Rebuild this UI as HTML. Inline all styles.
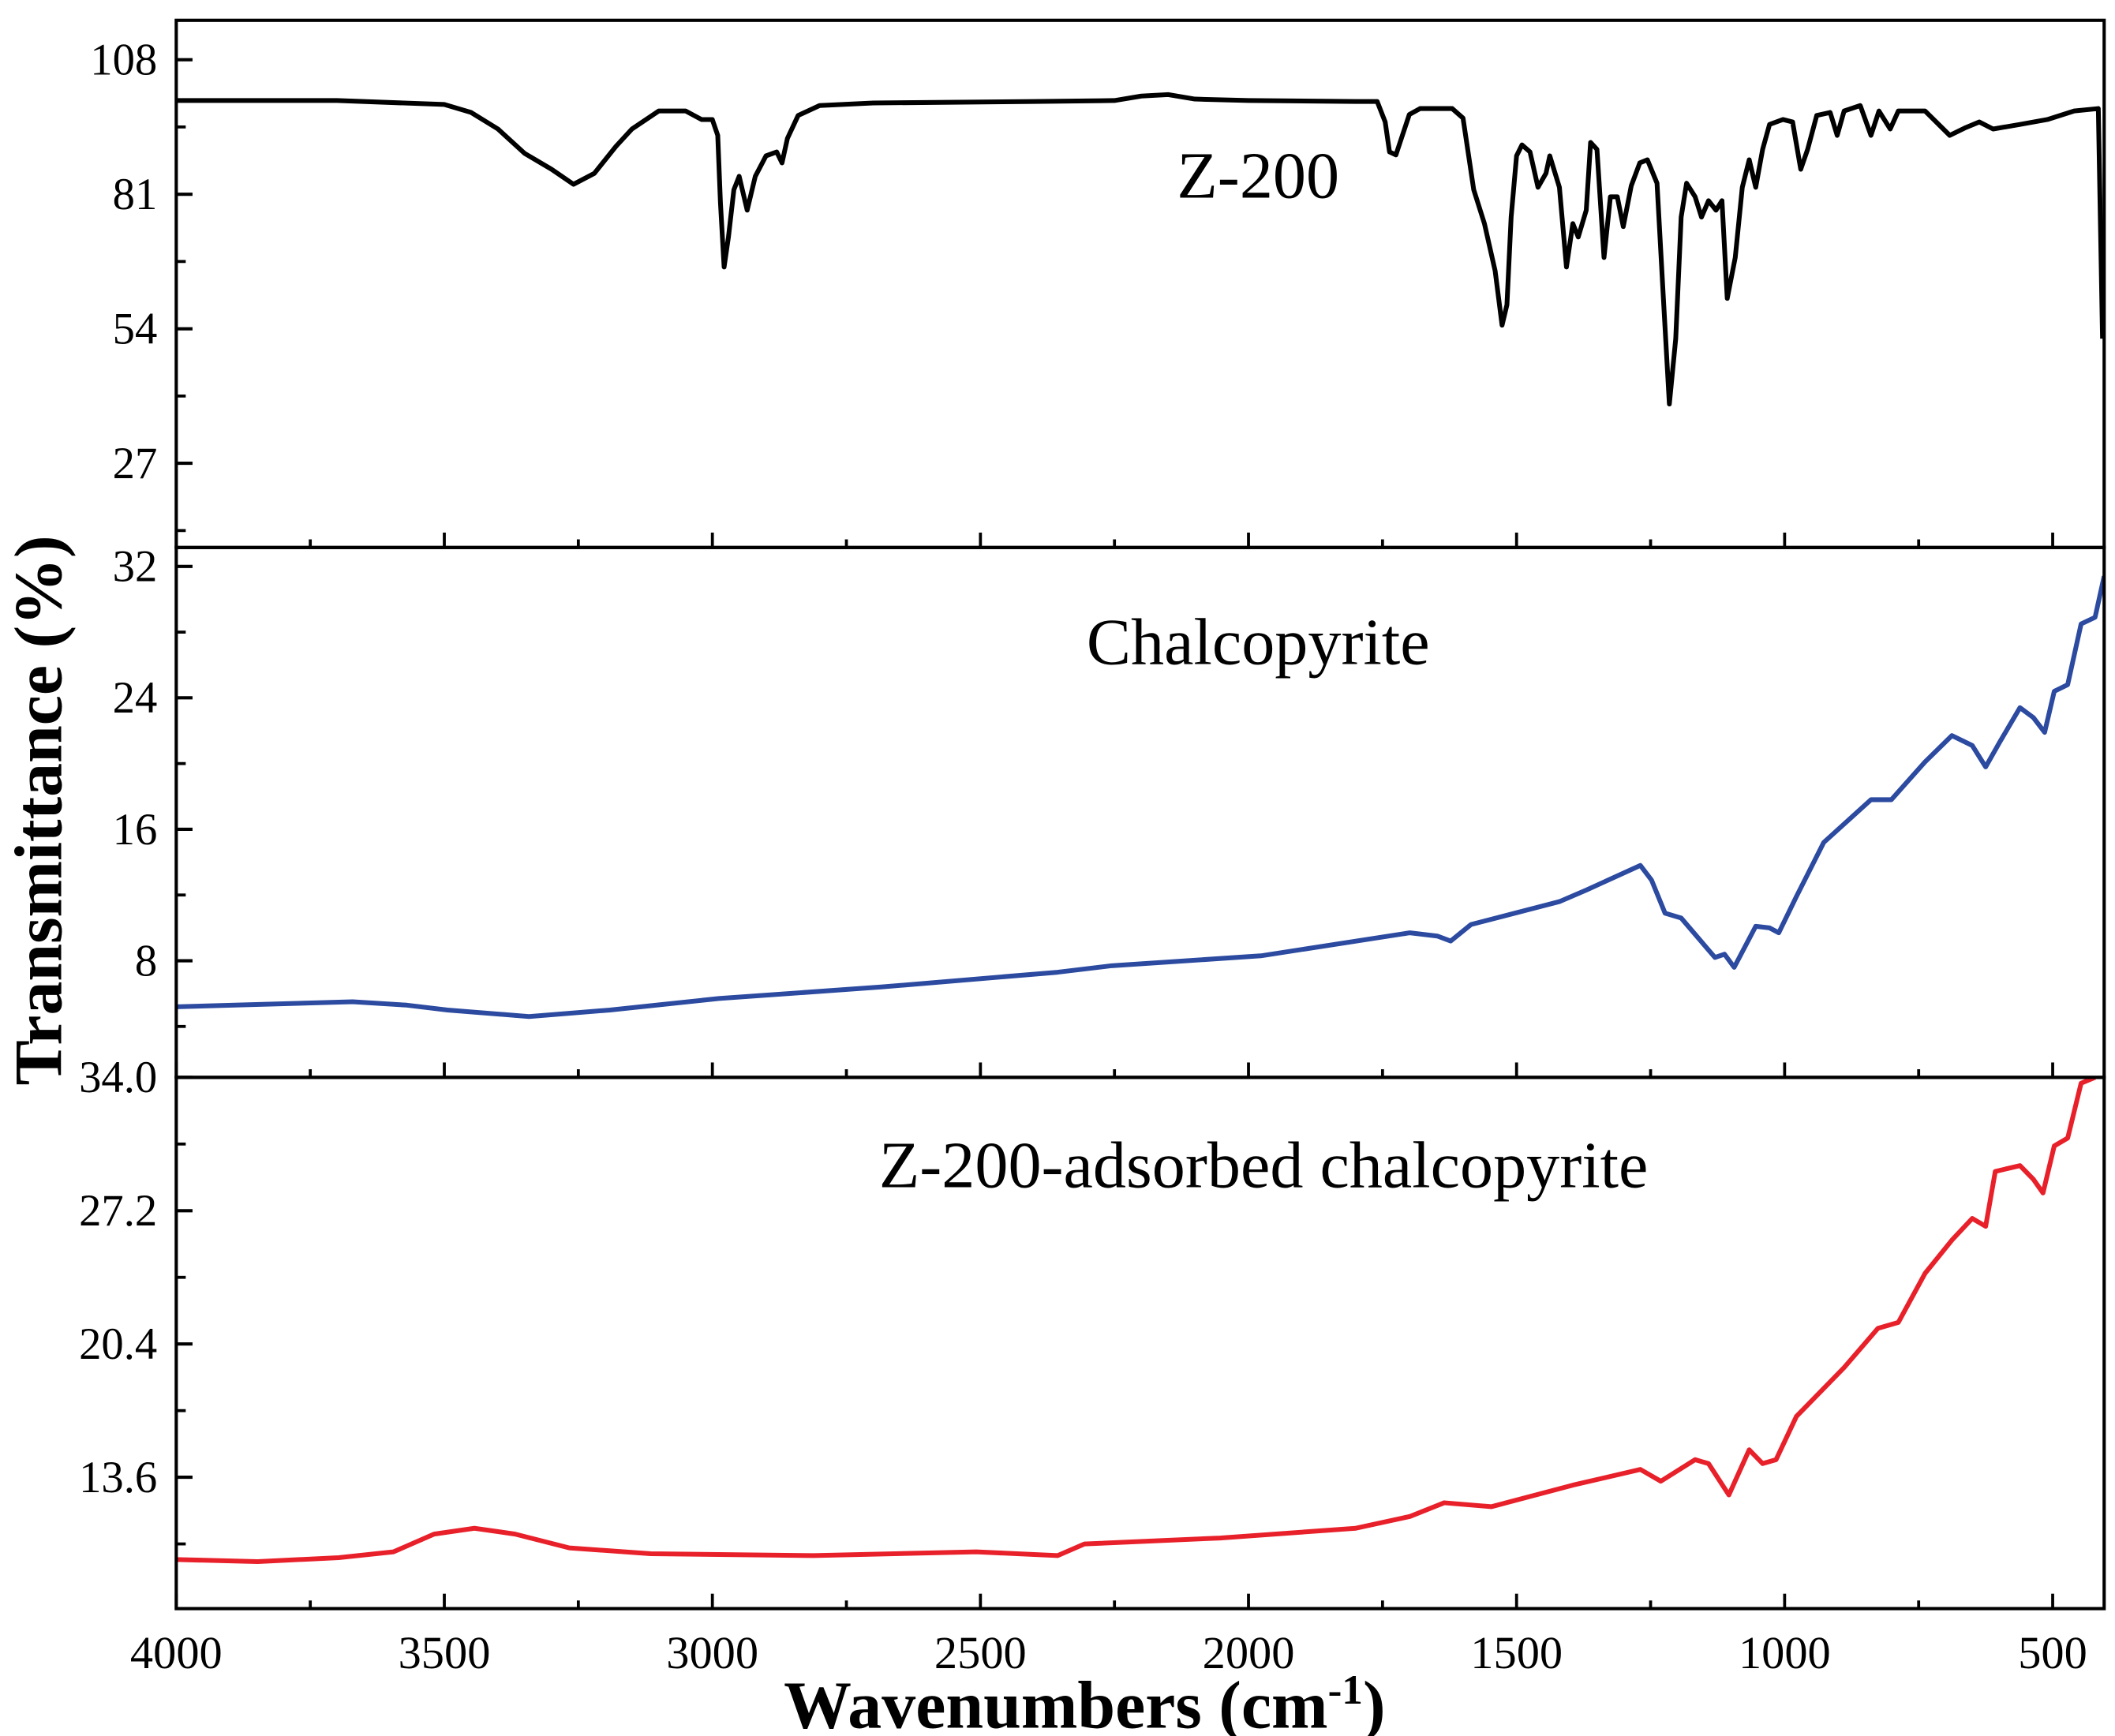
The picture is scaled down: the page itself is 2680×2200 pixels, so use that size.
<!DOCTYPE html>
<html><head><meta charset="utf-8"><style>
html,body{margin:0;padding:0;background:#fff}
svg{display:block}
text{font-family:"Liberation Serif","Times New Roman",serif;fill:#000}
</style></head><body>
<svg id="chart" width="2680" height="2200" viewBox="0 0 1560 1281" preserveAspectRatio="none" xmlns="http://www.w3.org/2000/svg"></svg>
<script>
// ---- data ----
const xTicks = [4000,3500,3000,2500,2000,1500,1000,500];
const p1Ticks = [108,81,54,27];
const p2Ticks = [32,24,16,8];
const p3Ticks = ["34.0","27.2","20.4","13.6"];

const z200Wn = [4000,3700,3500,3450,3400,3350,3300,3259,3220,3180,3150,3100,3050,3020,3000,2990,2985,2978,2970,2960,2950,2935,2920,2900,2880,2870,2860,2840,2800,2700,2400,2250,2200,2150,2100,2000,1800,1760,1745,1737,1725,1700,1680,1620,1600,1580,1560,1540,1527,1518,1510,1500,1490,1475,1460,1445,1438,1420,1407,1395,1385,1370,1362,1350,1337,1325,1312,1301,1286,1270,1256,1238,1226,1215,1203,1193,1183,1167,1155,1142,1128,1117,1107,1092,1079,1066,1054,1041,1028,1003,985,970,957,940,915,902,889,859,839,824,803,788,738,692,662,637,611,561,510,460,415,407];
const z200T  = [99.8,99.8,99.0,97.4,94.1,89.2,86.0,83.0,85.2,90.6,94.1,97.7,97.7,96.0,96.0,92.8,79.2,66.4,72.4,81.9,84.6,77.8,84.6,88.7,89.5,87.3,92.2,96.8,98.8,99.3,99.6,99.8,100.7,101.0,100.1,99.8,99.6,99.6,95.5,89.5,88.9,97.0,98.2,98.2,96.3,81.9,75.1,65.6,54.7,58.8,76.4,88.7,90.9,89.5,82.4,85.2,88.7,82.4,66.4,75.1,72.4,77.8,91.4,90.0,68.3,80.5,80.5,74.5,82.7,87.3,87.9,83.2,60.1,38.9,52.0,76.4,83.2,80.5,76.4,79.7,77.8,79.7,60.1,68.3,82.4,87.9,82.4,90.0,95.0,96.0,95.5,86.0,90.0,96.8,97.4,92.8,97.7,98.8,92.8,97.7,94.1,97.7,97.7,92.8,94.4,95.5,94.1,95.0,96.0,97.7,98.2,52.0];

const chalWn = [4000,3671,3570,3494,3342,3191,2988,2685,2356,2255,1977,1699,1648,1623,1585,1420,1370,1269,1248,1223,1193,1130,1112,1094,1054,1028,1011,978,927,839,801,738,688,650,625,599,561,536,515,497,472,447,421,404];
const chalT  = [5.2,5.5,5.3,5.0,4.6,5.0,5.7,6.4,7.3,7.7,8.3,9.7,9.5,9.2,10.2,11.6,12.3,13.8,12.9,10.9,10.6,8.2,8.4,7.6,10.1,10.0,9.7,11.9,15.2,17.8,17.8,20.1,21.7,21.1,19.8,21.3,23.4,22.8,21.9,24.4,24.8,28.5,28.9,31.4];

const adsWn = [4000,3848,3697,3595,3519,3444,3368,3267,3115,2811,2508,2356,2306,2053,1800,1699,1635,1547,1395,1269,1231,1167,1142,1104,1066,1041,1016,978,889,826,788,738,688,650,625,607,561,536,518,497,472,447,421];
const adsT  = [9.4,9.3,9.5,9.8,10.7,11.0,10.7,10.0,9.7,9.6,9.8,9.6,10.2,10.5,11.0,11.6,12.3,12.1,13.2,14.0,13.4,14.5,14.3,12.7,15.0,14.3,14.5,16.7,19.2,21.2,21.5,24.0,25.7,26.8,26.4,29.2,29.5,28.8,28.1,30.5,30.9,33.7,34.0];

// ---- layout ----
const L=130,R=1552;
const panels=[
 {top:15,bot:404,min:10.1,max:115.9,ticks:p1Ticks,minor:[94.5,67.5,40.5,13.5],name:'z200'},
 {top:404,bot:795,min:0.9,max:33.15,ticks:p2Ticks,minor:[28,20,12,4],name:'chalcopyrite'},
 {top:795,bot:1187,min:6.9,max:34.0,ticks:p3Ticks.map(Number),minor:[30.6,23.8,17.0,10.2],name:'adsorbed'}
];
const NS='http://www.w3.org/2000/svg';
const svg=document.getElementById('chart');
function xs(w){return L+(4000-w)*(R-L)/(4000-404);}
function ys(p,v){return p.bot-(v-p.min)/(p.max-p.min)*(p.bot-p.top);}
function mk(tag,attrs){const e=document.createElementNS(NS,tag);for(const k in attrs)e.setAttribute(k,attrs[k]);svg.appendChild(e);return e;}

const defs=document.createElementNS(NS,'defs');svg.appendChild(defs);
panels.forEach((p,i)=>{
  const cp=document.createElementNS(NS,'clipPath');cp.setAttribute('id','c'+i);
  const r=document.createElementNS(NS,'rect');r.setAttribute('x',L);r.setAttribute('y',p.top);r.setAttribute('width',R-L);r.setAttribute('height',p.bot-p.top);
  cp.appendChild(r);defs.appendChild(cp);
});

const series=[[z200Wn,z200T,'#000000'],[chalWn,chalT,'#2b4aa0'],[adsWn,adsT,'#e8202a']];
const seriesNames=['z200-spectrum-line','chalcopyrite-spectrum-line','adsorbed-spectrum-line'];
panels.forEach((p,i)=>{
  p.ticks.forEach((t,j)=>{
    const y=ys(p,t);
    const tk=mk('line',{x1:L,x2:L+12,y1:y,y2:y,stroke:'#000','stroke-width':2.4});
    
    
    const lb=mk('text',{x:L-14,y:y+11,'font-size':33,'text-anchor':'end'});
    lb.textContent=(i===0?p1Ticks:i===1?p2Ticks:p3Ticks)[j];
    
    
  });
  p.minor.forEach(t=>{
    const y=ys(p,t);
    const tk=mk('line',{x1:L,x2:L+7,y1:y,y2:y,stroke:'#000','stroke-width':2.2});
    
    
  });
  for(let w=4000;w>=404;w-=250){
    const maj=(w%500===0);
    const x=xs(w);
    const tk=mk('line',{x1:x,x2:x,y1:p.bot,y2:p.bot-(maj?11:6),stroke:'#000','stroke-width':2.2});
    
    
  }
  const [wn,tv,col]=series[i];
  let d='';
  wn.forEach((w,k)=>{d+=(k?'L':'M')+xs(w).toFixed(1)+','+ys(p,tv[k]).toFixed(1);});
  const path=mk('path',{d:d,fill:'none',stroke:col,'stroke-width':3.5,'stroke-linejoin':'round','clip-path':'url(#c'+i+')'});
  
  
  const fr=mk('rect',{x:L,y:p.top,width:R-L,height:p.bot-p.top,fill:'none',stroke:'#000','stroke-width':2.4});
  
  
});

xTicks.forEach(w=>{
  const t=mk('text',{x:xs(w),y:1231,'font-size':34,'text-anchor':'middle'});
  t.textContent=w;
  
  
});

const labels=[['Z-200',928,146,'z200-label'],['Chalcopyrite',928,490,'chalcopyrite-label'],['Z-200-adsorbed chalcopyrite',932,876,'adsorbed-label']];
labels.forEach(l=>{
  const t=mk('text',{x:l[1],y:l[2],'font-size':49,'text-anchor':'middle'});
  t.textContent=l[0];
  
  
});

const xt=mk('text',{x:800,y:1275,'font-size':50,'font-weight':'bold','text-anchor':'middle'});
xt.innerHTML='Wavenumbers (cm<tspan dy="-18" font-size="31">-1</tspan><tspan dy="18">)</tspan>';



const yt=mk('text',{x:0,y:0,'font-size':50,'font-weight':'bold','text-anchor':'middle',transform:'translate(45,598) rotate(-90)'});
yt.textContent='Transmittance (%)';


</script>
</body></html>
